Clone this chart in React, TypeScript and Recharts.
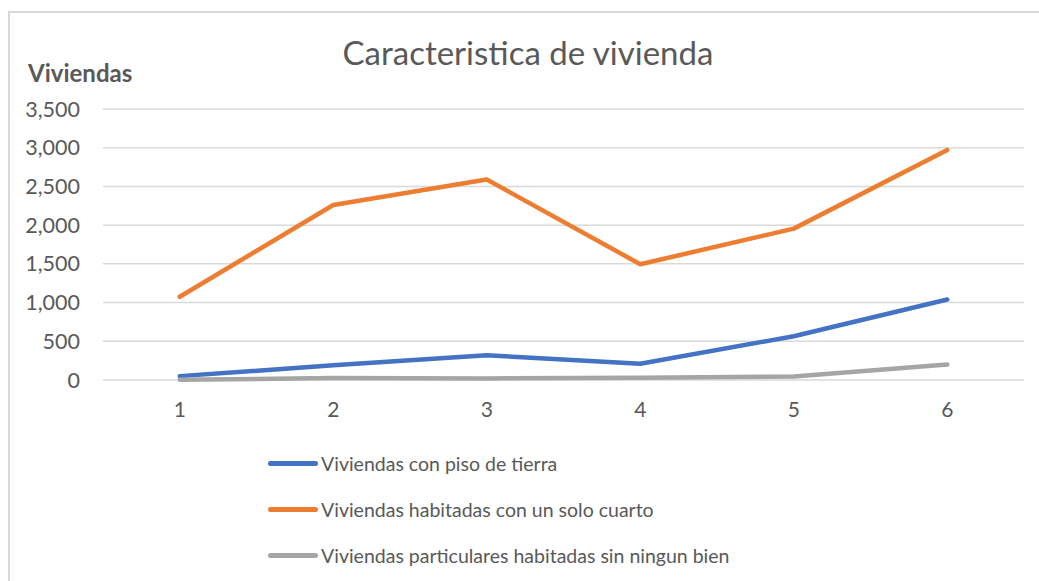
import React from "react";
import { LineChart, Line, XAxis, YAxis, CartesianGrid, Legend } from "recharts";

const categories = ["1", "2", "3", "4", "5", "6"];
const pisoTierra = [50, 190, 320, 210, 565, 1040];
const unSoloCuarto = [1075, 2260, 2590, 1495, 1955, 2970];
const sinNingunBien = [3, 25, 20, 30, 45, 200];
const yTicks = [0, 500, 1000, 1500, 2000, 2500, 3000, 3500];

const seriesNames = [
  "Viviendas con piso de tierra",
  "Viviendas habitadas con un solo cuarto",
  "Viviendas particulares habitadas sin ningun bien",
];
const seriesColors = ["#4472C4", "#ED7D31", "#A5A5A5"];
const seriesKeys = ["piso", "cuarto", "bien"];

const data = categories.map((c, i) => ({
  cat: c,
  piso: pisoTierra[i],
  cuarto: unSoloCuarto[i],
  bien: sinNingunBien[i],
}));

const FONT = "Lato, 'Open Sans', sans-serif";
const TEXT = "#595959";

const fmt = (v: number) => v.toLocaleString("en-US");

const LegendContent = () => (
  <div style={{ fontFamily: FONT }}>
    {seriesNames.map((n, i) => (
      <div key={n} style={{ display: "flex", alignItems: "center", height: 46 }}>
        <div
          style={{
            width: 50,
            height: 5,
            borderRadius: 3,
            background: seriesColors[i],
            marginRight: 3,
          }}
        />
        <span style={{ fontSize: 19.5, color: TEXT }}>{n}</span>
      </div>
    ))}
  </div>
);

export default function App() {
  return (
    <div style={{ position: "absolute", left: 0, top: 0, width: 1039, height: 581, background: "#fff", overflow: "hidden" }}>
      <div
        style={{
          position: "absolute",
          left: 8,
          top: 11,
          width: 1100,
          height: 700,
          borderLeft: "2px solid #D9D9D9",
          borderTop: "2px solid #D9D9D9",
        }}
      />
      <div
        style={{
          position: "absolute",
          left: 0,
          width: 1056,
          top: 32,
          textAlign: "center",
          fontFamily: FONT,
          fontSize: 33,
          color: TEXT,
        }}
      >
        Caracteristica de vivienda
      </div>
      <div
        style={{
          position: "absolute",
          left: 28,
          top: 58,
          fontFamily: FONT,
          fontWeight: "bold",
          fontSize: 24,
          color: TEXT,
        }}
      >
        Viviendas
      </div>
      <div style={{ position: "absolute", left: 0, top: 0 }}>
        <LineChart
          width={1039}
          height={581}
          data={data}
          margin={{ top: 109, right: 15, bottom: 171, left: 0 }}
        >
          <CartesianGrid vertical={false} stroke="#D9D9D9" strokeWidth={1.5} />
          <XAxis
            dataKey="cat"
            height={30}
            axisLine={false}
            tickLine={false}
            tickSize={0}
            tickMargin={22}
            padding={{ left: 76.75, right: 76.75 }}
            tick={{ fill: TEXT, fontSize: 21, fontFamily: FONT }}
          />
          <YAxis
            width={103}
            domain={[0, 3500]}
            ticks={yTicks}
            axisLine={false}
            tickLine={false}
            tickSize={0}
            tickMargin={23}
            tickFormatter={fmt}
            tick={{ fill: TEXT, fontSize: 21.5, fontFamily: FONT }}
          />
          {seriesKeys.map((k, i) => (
            <Line
              key={k}
              dataKey={k}
              name={seriesNames[i]}
              stroke={seriesColors[i]}
              strokeWidth={4.5}
              strokeLinecap="round"
              strokeLinejoin="round"
              dot={false}
              isAnimationActive={false}
            />
          ))}
          <Legend
            layout="vertical"
            align="center"
            verticalAlign="middle"
            content={LegendContent}
            wrapperStyle={{ top: 440, left: 268, width: 600, height: 140 }}
          />
        </LineChart>
      </div>
    </div>
  );
}
